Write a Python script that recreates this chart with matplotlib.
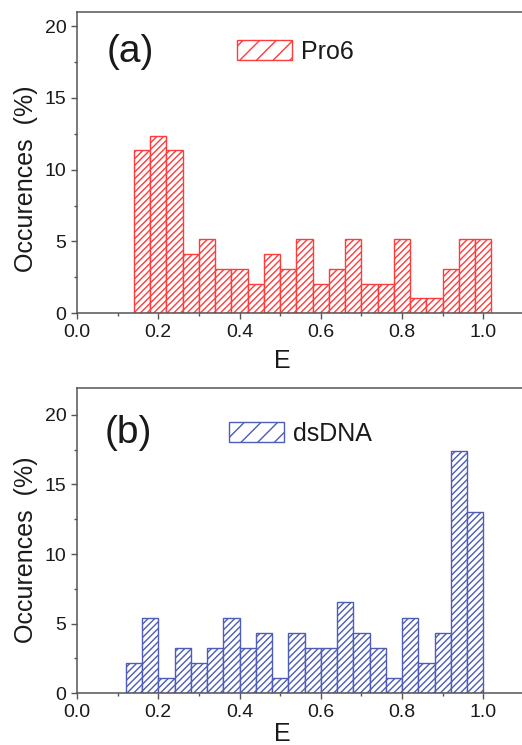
import numpy as np
import matplotlib
matplotlib.use("Agg")
import matplotlib.pyplot as plt
from matplotlib.patches import Patch
from matplotlib.ticker import MultipleLocator

plt.rcParams['font.family'] = ['Liberation Sans', 'DejaVu Sans']

# Histogram data (bin left edges, width 0.04), occurrences in %
pro6_left = [0.14, 0.18, 0.22, 0.26, 0.30, 0.34, 0.38, 0.42, 0.46, 0.50, 0.54,
             0.58, 0.62, 0.66, 0.70, 0.74, 0.78, 0.82, 0.86, 0.90, 0.94, 0.98]
pro6_pct = [11.34, 12.37, 11.34, 4.12, 5.15, 3.09, 3.09, 2.06, 4.12, 3.09, 5.15,
            2.06, 3.09, 5.15, 2.06, 2.06, 5.15, 1.03, 1.03, 3.09, 5.15, 5.15]

dsdna_left = [0.12, 0.16, 0.20, 0.24, 0.28, 0.32, 0.36, 0.40, 0.44, 0.48, 0.52,
              0.56, 0.60, 0.64, 0.68, 0.72, 0.76, 0.80, 0.84, 0.88, 0.92, 0.96]
dsdna_pct = [2.17, 5.43, 1.09, 3.26, 2.17, 3.26, 5.43, 3.26, 4.35, 1.09, 4.35,
             3.26, 3.26, 6.52, 4.35, 3.26, 1.09, 5.43, 2.17, 4.35, 17.39, 13.04]

bin_w = 0.04
red = '#ff3b3b'
blue = '#4c5cb8'
spine_c = '#555555'
txt_c = '#1a1a1a'

fig = plt.figure(figsize=(5.22, 7.45), dpi=100)
ax1 = fig.add_axes([0.1475, 0.5795, 0.8563, 0.4048])
ax2 = fig.add_axes([0.1475, 0.0694, 0.8563, 0.4094])

panels = [
    (ax1, pro6_left, pro6_pct, red, 'Pro6', '(a)', 21.0, (0.074, 18.2), (0.358, 0.866), 0.445, -0.180),
    (ax2, dsdna_left, dsdna_pct, blue, 'dsDNA', '(b)', 21.9, (0.069, 18.7), (0.340, 0.850), 0.47, -0.158),
]

for ax, left, pct, col, name, tag, ytop, tagpos, legpos, ylab_y, xlab_y in panels:
    ax.bar(left, pct, width=bin_w, align='edge', facecolor='white',
           edgecolor=col, hatch='/////', linewidth=1.0)
    ax.set_xlim(0, 1.1)
    ax.set_ylim(0, ytop)
    ax.xaxis.set_major_locator(MultipleLocator(0.2))
    ax.xaxis.set_minor_locator(MultipleLocator(0.1))
    ax.yaxis.set_major_locator(MultipleLocator(5))
    ax.yaxis.set_minor_locator(MultipleLocator(2.5))
    ax.xaxis.set_major_formatter(plt.FormatStrFormatter('%.1f'))
    ax.tick_params(which='major', direction='out', length=4, width=1.0,
                   color=spine_c, labelsize=14, labelcolor=txt_c, pad=3.5)
    ax.tick_params(which='minor', direction='out', length=2.2, width=1.0, color=spine_c)
    ax.tick_params(top=False, right=False)
    for sp in ax.spines.values():
        sp.set_color(spine_c)
        sp.set_linewidth(1.1)
    ax.set_ylabel('Occurences  (%)', fontsize=18, color=txt_c)
    ax.set_xlabel('E', fontsize=18, color=txt_c, va='baseline')
    ax.yaxis.set_label_coords(-0.087, ylab_y)
    ax.xaxis.set_label_coords(0.459, xlab_y)
    ax.text(tagpos[0], tagpos[1], tag, fontsize=28, color=txt_c, va='center', ha='left')
    handle = Patch(facecolor='white', edgecolor=col, hatch='//', linewidth=1.0)
    ax.legend([handle], [name], loc='center left', bbox_to_anchor=legpos,
              frameon=False, fontsize=18, handlelength=2.2, handleheight=0.85,
              handletextpad=0.35, borderpad=0, borderaxespad=0, labelcolor=txt_c)

fig.savefig('out.png', dpi=100)
